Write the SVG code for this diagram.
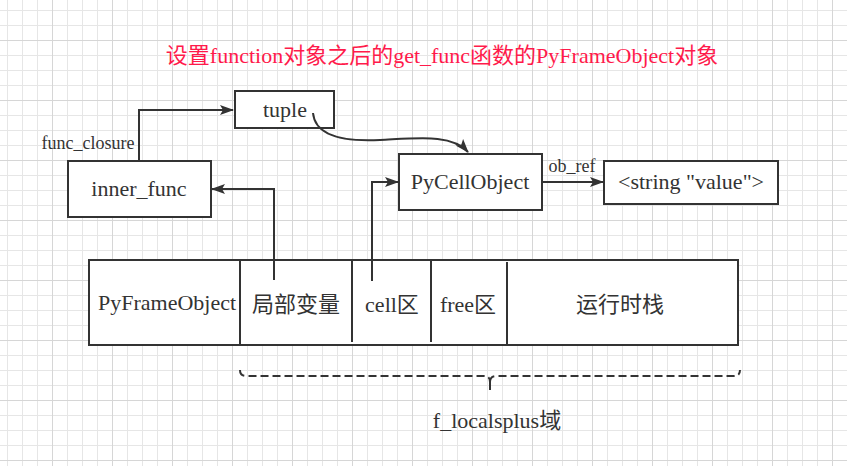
<svg xmlns="http://www.w3.org/2000/svg" width="847" height="466" viewBox="0 0 847 466">
<defs>
<marker id="arr" markerWidth="14" markerHeight="10" refX="13" refY="5" orient="auto" markerUnits="userSpaceOnUse">
<path d="M0,0 L14,5 L0,10 L3,5 Z" fill="#333"/>
</marker>
</defs>
<style>
.box{fill:#fff;stroke:#333;stroke-width:2}
.t{font-family:"Liberation Serif","Noto Sans CJK SC",serif;fill:#333;text-anchor:middle;dominant-baseline:central}
.l{font-size:22px}
.s{font-size:18px}
.c{fill:none;stroke:#333;stroke-width:2}
</style>
<rect width="847" height="466" fill="#ffffff"/>
<g id="grid" fill="none" stroke-width="1">
<path stroke="#e6e6e6" d="M7.5,0V466M22.5,0V466M37.5,0V466M67.5,0V466M82.5,0V466M97.5,0V466M127.5,0V466M142.5,0V466M157.5,0V466M187.5,0V466M202.5,0V466M217.5,0V466M247.5,0V466M262.5,0V466M277.5,0V466M307.5,0V466M322.5,0V466M337.5,0V466M367.5,0V466M382.5,0V466M397.5,0V466M427.5,0V466M442.5,0V466M457.5,0V466M487.5,0V466M502.5,0V466M517.5,0V466M547.5,0V466M562.5,0V466M577.5,0V466M607.5,0V466M622.5,0V466M637.5,0V466M667.5,0V466M682.5,0V466M697.5,0V466M727.5,0V466M742.5,0V466M757.5,0V466M787.5,0V466M802.5,0V466M817.5,0V466M0,10.5H847M0,25.5H847M0,55.5H847M0,70.5H847M0,85.5H847M0,115.5H847M0,130.5H847M0,145.5H847M0,175.5H847M0,190.5H847M0,205.5H847M0,235.5H847M0,250.5H847M0,265.5H847M0,295.5H847M0,310.5H847M0,325.5H847M0,355.5H847M0,370.5H847M0,385.5H847M0,415.5H847M0,430.5H847M0,445.5H847"/>
<path stroke="#d6d6d6" d="M52.5,0V466M112.5,0V466M172.5,0V466M232.5,0V466M292.5,0V466M352.5,0V466M412.5,0V466M472.5,0V466M532.5,0V466M592.5,0V466M652.5,0V466M712.5,0V466M772.5,0V466M832.5,0V466M0,40.5H847M0,100.5H847M0,160.5H847M0,220.5H847M0,280.5H847M0,340.5H847M0,400.5H847M0,460.5H847"/>
</g>

<text class="t l" x="442" y="55" style="fill:#ff1a4b">设置function对象之后的get_func函数的PyFrameObject对象</text>

<g id="tuple">
<rect class="box" x="235" y="91" width="99" height="37"/>
<text class="t l" x="285" y="109">tuple</text>
</g>
<g id="inner_func">
<rect class="box" x="68" y="161" width="143" height="56"/>
<text class="t l" x="139" y="188">inner_func</text>
</g>
<g id="pycellobject">
<rect class="box" x="399" y="154" width="143" height="56"/>
<text class="t l" x="470" y="181">PyCellObject</text>
</g>
<g id="string_value">
<rect class="box" x="604" y="161" width="174" height="43"/>
<text class="t l" x="691" y="181">&lt;string "value"&gt;</text>
</g>
<g id="pyframeobject">
<rect class="box" x="89" y="260" width="649" height="85"/>
<line class="c" x1="240" y1="260" x2="240" y2="345"/>
<line class="c" x1="352" y1="260" x2="352" y2="342"/>
<line class="c" x1="431" y1="260" x2="431" y2="342"/>
<line class="c" x1="507" y1="262" x2="507" y2="345"/>
<text class="t l" x="167" y="302">PyFrameObject</text>
<text class="t l" x="296" y="304">局部变量</text>
<text class="t l" x="392" y="304">cell区</text>
<text class="t l" x="468" y="304">free区</text>
<text class="t l" x="620" y="304">运行时栈</text>
</g>
<g id="f_localsplus">
<path d="M240,370 Q240,376 246,376 L484,376 Q490,376 490,382 M490,382 Q490,376 496,376 L734,376 Q740,376 740,370" fill="none" stroke="#333" stroke-width="2" stroke-dasharray="8,4"/>
<line class="c" x1="490" y1="380" x2="490" y2="390"/>
<text class="t l" x="497" y="420">f_localsplus域</text>
</g>

<g id="connectors">
<path class="c" d="M139,161 V110 H233" marker-end="url(#arr)"/>
<text class="t s" x="88" y="143">func_closure</text>
<path class="c" d="M313,113 C315,135 340,142 380,140 C420,138 452,134 468,152" marker-end="url(#arr)"/>
<path class="c" d="M542,182 H603" marker-end="url(#arr)"/>
<text class="t s" x="572" y="166">ob_ref</text>
<path class="c" d="M274,280 V189 H212" marker-end="url(#arr)"/>
<path class="c" d="M372,281 V182 H398" marker-end="url(#arr)"/>
</g>
</svg>
